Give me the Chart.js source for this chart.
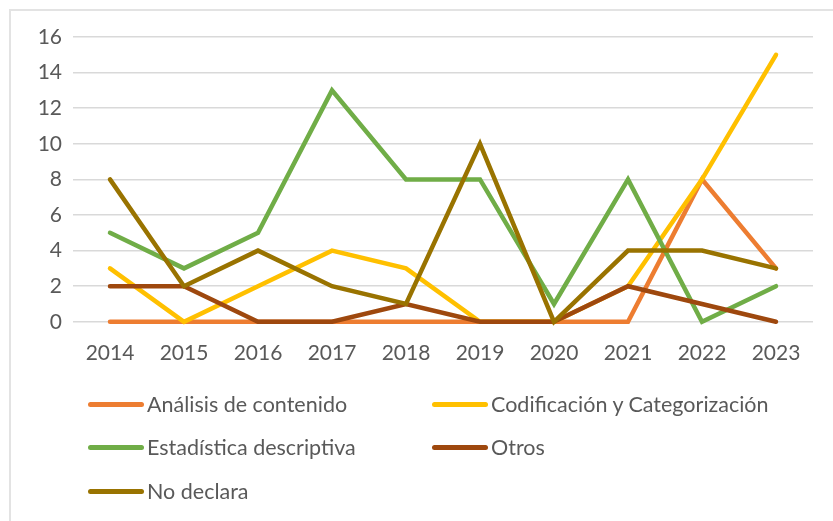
<!DOCTYPE html>
<html>
<head>
<meta charset="utf-8">
<script src="https://cdn.jsdelivr.net/npm/chart.js@4"></script>
<style>
  html, body { margin: 0; padding: 0; background: #fff; }
  #wrap { position: relative; width: 833px; height: 521px; overflow: hidden; }
  #frame { position: absolute; left: 9px; top: 9px; width: 900px; height: 600px;
           border-left: 2px solid #e3e3e3; border-top: 2px solid #e3e3e3; }
  canvas { position: absolute; left: 0; top: 0; }
  #legend { position: absolute; left: 0; top: 0; font-family: Lato, sans-serif;
            font-size: 21.5px; color: #595959; }
  .item { position: absolute; display: flex; align-items: center; white-space: nowrap; }
  .swatch { width: 56px; height: 5px; border-radius: 3px; margin-right: 3px; }
</style>
</head>
<body>
<div id="wrap">
  <div id="frame"></div>
  <canvas id="chart" width="833" height="521"></canvas>
  <div id="legend"></div>
</div>
<script>
const years = ["2014", "2015", "2016", "2017", "2018", "2019", "2020", "2021", "2022", "2023"];

const analisis = [0, 0, 0, 0, 0, 0, 0, 0, 8, 3];
const codificacion = [3, 0, 2, 4, 3, 0, 0, 2, 8, 15];
const estadistica = [5, 3, 5, 13, 8, 8, 1, 8, 0, 2];
const otros = [2, 2, 0, 0, 1, 0, 0, 2, 1, 0];
const noDeclara = [8, 2, 4, 2, 1, 10, 0, 4, 4, 3];

const seriesNames = ["Análisis de contenido", "Codificación y Categorización",
  "Estadística descriptiva", "Otros", "No declara"];
const seriesValues = [analisis, codificacion, estadistica, otros, noDeclara];
const seriesColors = ["#ED7D31", "#FFC000", "#70AD47", "#9E480E", "#997300"];

const yTicks = [0, 2, 4, 6, 8, 10, 12, 14, 16];

const datasets = seriesNames.map((name, i) => ({
  label: name,
  data: seriesValues[i],
  borderColor: seriesColors[i],
  backgroundColor: seriesColors[i],
  borderWidth: 4.5,
  pointRadius: 0,
  borderCapStyle: "round",
  borderJoinStyle: "miter",
  tension: 0,
  clip: 8,
  // later series sit on top, like the original
  order: seriesNames.length - i,
}));

const ctx = document.getElementById("chart").getContext("2d");

new Chart(ctx, {
  type: "line",
  data: { labels: years, datasets },
  options: {
    responsive: false,
    animation: false,
    layout: { padding: { top: 37, right: 20, bottom: 144, left: 0 } },
    plugins: {
      legend: { display: false },
      tooltip: { enabled: false },
    },
    scales: {
      x: {
        offset: true,
        grid: { display: false },
        border: { display: false },
        ticks: {
          color: "#595959",
          padding: 11,
          maxRotation: 0,
          font: { family: "Lato", size: 21 },
        },
      },
      y: {
        min: 0,
        max: 16,
        afterFit: (scale) => { scale.width = 73; },
        afterBuildTicks: (scale) => { scale.ticks = yTicks.map(v => ({ value: v })); },
        grid: { color: "#d9d9d9", lineWidth: 1.5, drawTicks: false },
        border: { display: false },
        ticks: {
          color: "#595959",
          padding: 11,
          font: { family: "Lato", size: 21 },
        },
      },
    },
  },
});

// legend in two columns, like the original
const legend = document.getElementById("legend");
const colX = [88, 432];
const rowY = [404, 447, 491];
seriesNames.forEach((name, i) => {
  const item = document.createElement("div");
  item.className = "item";
  item.style.left = colX[i % 2] + "px";
  item.style.top = (rowY[Math.floor(i / 2)] - 12) + "px";
  item.style.height = "24px";
  const sw = document.createElement("span");
  sw.className = "swatch";
  sw.style.background = seriesColors[i];
  const txt = document.createElement("span");
  txt.textContent = name;
  item.appendChild(sw);
  item.appendChild(txt);
  legend.appendChild(item);
});
</script>
</body>
</html>
